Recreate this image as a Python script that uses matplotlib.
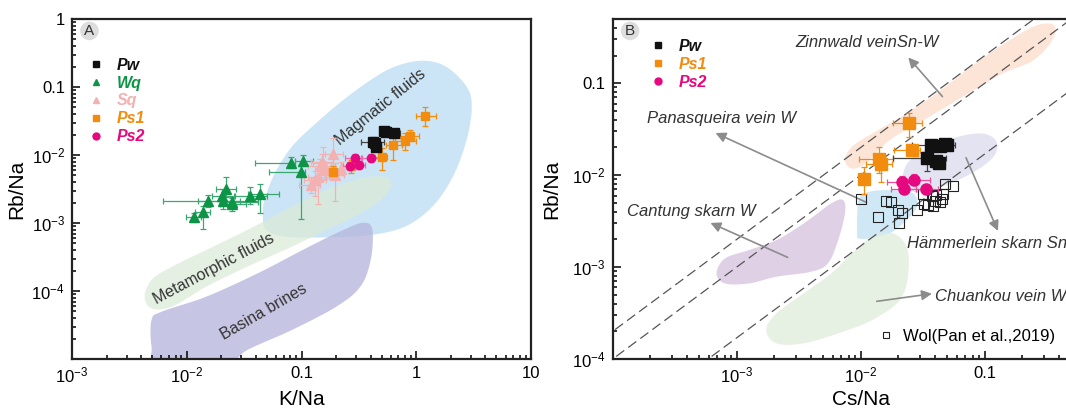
import numpy as np
import matplotlib
matplotlib.use("Agg")
import matplotlib.pyplot as plt
from matplotlib.lines import Line2D

plt.rcParams["font.family"] = ["Liberation Sans", "DejaVu Sans"]
plt.rcParams["mathtext.default"] = "regular"

# ---------------- data: panel A (K/Na vs Rb/Na) ----------------
pw_k = [0.52, 0.55, 0.64, 0.42, 0.435, 0.45]
pw_rb = [0.0225, 0.022, 0.021, 0.0155, 0.0149, 0.0132]
pw_k_lo = [0.48, 0.50, 0.57, 0.33, 0.40, 0.42]
pw_k_hi = [0.56, 0.60, 0.72, 0.52, 0.47, 0.49]
pw_rb_lo = [0.021, 0.0205, 0.0195, 0.0135, 0.0130, 0.0120]
pw_rb_hi = [0.024, 0.0235, 0.0225, 0.0185, 0.0165, 0.0145]

wq_k = [0.0115, 0.0138, 0.0153, 0.0201, 0.0219, 0.0206, 0.0248, 0.0249, 0.0355, 0.0436, 0.0807, 0.104, 0.0993]
wq_rb = [0.00121, 0.00147, 0.0021, 0.0025, 0.00316, 0.0021, 0.00206, 0.0019, 0.0025, 0.00267, 0.0075, 0.0082, 0.0056]
wq_k_lo = [0.0099, 0.0118, 0.0062, 0.0165, 0.0180, 0.0125, 0.0200, 0.0195, 0.0265, 0.0340, 0.039, 0.088, 0.052]
wq_k_hi = [0.0132, 0.0160, 0.0290, 0.0260, 0.0270, 0.0420, 0.0420, 0.0330, 0.0500, 0.0640, 0.088, 0.125, 0.107]
wq_rb_lo = [0.00105, 0.00082, 0.0017, 0.0020, 0.0024, 0.0016, 0.0017, 0.0015, 0.0019, 0.0014, 0.0065, 0.0072, 0.00113]
wq_rb_hi = [0.00138, 0.0018, 0.0026, 0.0032, 0.0048, 0.0026, 0.0024, 0.0023, 0.0034, 0.0038, 0.0095, 0.0100, 0.0068]

sq_k = [0.12, 0.13, 0.14, 0.145, 0.155, 0.16, 0.19, 0.195, 0.22, 0.15]
sq_rb = [0.0036, 0.0043, 0.0048, 0.0068, 0.0075, 0.0060, 0.0103, 0.0051, 0.0063, 0.0080]
sq_k_lo = [0.095, 0.105, 0.115, 0.115, 0.125, 0.13, 0.16, 0.165, 0.18, 0.12]
sq_k_hi = [0.145, 0.165, 0.175, 0.18, 0.19, 0.2, 0.23, 0.235, 0.27, 0.19]
sq_rb_lo = [0.0028, 0.0025, 0.0019, 0.0052, 0.0058, 0.0045, 0.0068, 0.0021, 0.0050, 0.0062]
sq_rb_hi = [0.0046, 0.0058, 0.0062, 0.0088, 0.0130, 0.0078, 0.0180, 0.0075, 0.0078, 0.0105]

ps1_k = [1.2, 0.88, 0.79, 0.63, 0.50, 0.19, 0.27]
ps1_rb = [0.0375, 0.0192, 0.0158, 0.0140, 0.0092, 0.0057, 0.0068]
ps1_k_lo = [1.0, 0.72, 0.65, 0.54, 0.44, 0.17, 0.23]
ps1_k_hi = [1.5, 1.05, 1.0, 0.75, 0.56, 0.21, 0.31]
ps1_rb_lo = [0.027, 0.016, 0.012, 0.0085, 0.006, 0.0048, 0.0055]
ps1_rb_hi = [0.050, 0.023, 0.021, 0.021, 0.0125, 0.0068, 0.0085]

ps2_k = [0.265, 0.292, 0.315, 0.40]
ps2_rb = [0.0070, 0.0089, 0.0072, 0.0090]
ps2_k_lo = [0.22, 0.24, 0.27, 0.33]
ps2_k_hi = [0.30, 0.34, 0.36, 0.46]
ps2_rb_lo = [0.0061, 0.0077, 0.0063, 0.0080]
ps2_rb_hi = [0.0080, 0.0102, 0.0082, 0.0102]

# field outlines, log10(K/Na), log10(Rb/Na)
magmatic_lx = [-1.337, -1.322, -1.233, -1.084, -0.875, -0.636, -0.397, -0.188, 0.051, 0.260, 0.439, 0.484, 0.439, 0.319, 0.140, -0.099, -0.397, -0.785, -1.143, -1.307]
magmatic_ly = [-2.907, -2.662, -2.270, -1.877, -1.534, -1.191, -0.897, -0.701, -0.613, -0.701, -0.995, -1.289, -1.779, -2.319, -2.760, -3.054, -3.176, -3.211, -3.201, -3.103]
metam_lx = [-2.367, -2.307, -2.128, -1.830, -1.472, -1.084, -0.785, -0.487, -0.278, -0.218, -0.278, -0.487, -0.785, -1.084, -1.472, -1.830, -2.128, -2.307]
metam_ly = [-4.083, -3.838, -3.642, -3.397, -3.103, -2.760, -2.515, -2.343, -2.319, -2.417, -2.613, -2.858, -3.103, -3.348, -3.642, -3.936, -4.230, -4.255]
brine_lx = [-2.307, -2.218, -1.830, -1.382, -0.934, -0.636, -0.457, -0.382, -0.397, -0.487, -0.696, -1.084, -1.472, -1.681, -2.248, -2.307]
brine_ly = [-4.426, -4.304, -4.083, -3.740, -3.348, -3.103, -2.995, -3.103, -3.544, -3.936, -4.230, -4.574, -4.868, -5.110, -5.110, -4.819]

# ---------------- data: panel B (Cs/Na vs Rb/Na) ----------------
pwb_cs = [0.037, 0.044, 0.048, 0.050, 0.034, 0.0405, 0.0426]
pwb_rb = [0.0213, 0.0209, 0.0218, 0.0215, 0.0154, 0.0144, 0.0134]
pwb_cs_lo = [0.026, 0.040, 0.043, 0.046, 0.0183, 0.036, 0.038]
pwb_cs_hi = [0.048, 0.052, 0.056, 0.058, 0.049, 0.046, 0.048]
pwb_rb_lo = [0.0195, 0.0195, 0.0205, 0.0202, 0.011, 0.0135, 0.0125]
pwb_rb_hi = [0.0235, 0.0225, 0.0235, 0.023, 0.0177, 0.0155, 0.0145]

ps1b_cs = [0.0246, 0.0258, 0.0141, 0.0145, 0.0107]
ps1b_rb = [0.0366, 0.0188, 0.0150, 0.0132, 0.0091]
ps1b_cs_lo = [0.0183, 0.0185, 0.0096, 0.0110, 0.0098]
ps1b_cs_hi = [0.031, 0.030, 0.0183, 0.0180, 0.0116]
ps1b_rb_lo = [0.0262, 0.0162, 0.0105, 0.0084, 0.0063]
ps1b_rb_hi = [0.048, 0.0218, 0.020, 0.0165, 0.0122]

ps2b_cs = [0.0214, 0.0271, 0.0223, 0.0336]
ps2b_rb = [0.0084, 0.0089, 0.0070, 0.0071]
ps2b_cs_lo = [0.0162, 0.0215, 0.0175, 0.028]
ps2b_cs_hi = [0.028, 0.036, 0.028, 0.042]
ps2b_rb_lo = [0.0072, 0.0078, 0.0062, 0.0063]
ps2b_rb_hi = [0.0097, 0.0102, 0.0079, 0.0079]

wol_cs = [0.0100, 0.0160, 0.0175, 0.0201, 0.0214, 0.0139, 0.0205, 0.0283, 0.0324, 0.0320,
          0.0374, 0.0405, 0.0450, 0.0479, 0.0558, 0.0351, 0.0385, 0.0436, 0.0398, 0.0464]
wol_rb = [0.0055, 0.0052, 0.0051, 0.0042, 0.0039, 0.0035, 0.0030, 0.0042, 0.0049, 0.0063,
          0.0060, 0.0061, 0.0055, 0.0080, 0.0077, 0.0047, 0.0046, 0.0051, 0.0053, 0.0063]

# Rb/Cs ratios of the dashed reference lines
ref_ratios = [2.0, 1.0, 0.17]

zinn_lx = [-2.127, -2.072, -1.906, -1.630, -1.354, -1.077, -0.801, -0.580, -0.442, -0.456, -0.608, -0.856, -1.133, -1.492, -1.768, -1.961, -2.072]
zinn_ly = [-1.837, -1.692, -1.547, -1.330, -1.076, -0.786, -0.533, -0.370, -0.370, -0.533, -0.750, -0.895, -1.112, -1.402, -1.620, -1.873, -1.928]
hamm_lx = [-1.657, -1.602, -1.436, -1.215, -1.022, -0.912, -0.912, -1.022, -1.215, -1.436, -1.575, -1.644]
hamm_ly = [-1.982, -1.837, -1.692, -1.583, -1.547, -1.620, -1.764, -1.909, -2.054, -2.163, -2.181, -2.109]
pana_lx = [-2.030, -2.017, -1.934, -1.740, -1.575, -1.547, -1.630, -1.768, -1.934, -2.017]
pana_ly = [-2.634, -2.272, -2.181, -2.163, -2.199, -2.344, -2.489, -2.634, -2.688, -2.688]
cant_lx = [-3.163, -3.094, -2.901, -2.680, -2.459, -2.238, -2.141, -2.127, -2.182, -2.265, -2.403, -2.680, -2.901, -3.094]
cant_ly = [-3.069, -2.906, -2.815, -2.707, -2.525, -2.308, -2.272, -2.417, -2.707, -2.960, -3.051, -3.105, -3.178, -3.178]
chuan_lx = [-2.762, -2.680, -2.459, -2.238, -2.072, -1.906, -1.740, -1.630, -1.616, -1.685, -1.906, -2.182, -2.459, -2.680]
chuan_ly = [-3.685, -3.504, -3.286, -3.069, -2.851, -2.670, -2.634, -2.779, -3.069, -3.359, -3.576, -3.721, -3.830, -3.830]

ticks_a_x = [1e-3, 1e-2, 0.1, 1, 10]
labels_a_x = ["$10^{-3}$", "$10^{-2}$", "0.1", "1", "10"]
ticks_a_y = [1e-4, 1e-3, 1e-2, 0.1, 1]
labels_a_y = ["$10^{-4}$", "$10^{-3}$", "$10^{-2}$", "0.1", "1"]
ticks_b_x = [1e-3, 1e-2, 0.1]
labels_b_x = ["$10^{-3}$", "$10^{-2}$", "0.1"]
ticks_b_y = [1e-4, 1e-3, 1e-2, 0.1]
labels_b_y = ["$10^{-4}$", "$10^{-3}$", "$10^{-2}$", "0.1"]

C_PW = "#111111"
C_WQ = "#0e9447"
C_SQ = "#f3b1b1"
C_PS1 = "#f28c0f"
C_PS2 = "#e5087f"


def blob(lx, ly, n=24):
    # closed Catmull-Rom curve through the outline points (log space)
    p = np.column_stack([lx, ly])
    m = len(p)
    out = []
    for i in range(m):
        p0, p1, p2, p3 = p[i - 1], p[i], p[(i + 1) % m], p[(i + 2) % m]
        t = np.linspace(0, 1, n, endpoint=False)[:, None]
        pt = 0.5 * ((2 * p1) + (-p0 + p2) * t + (2 * p0 - 5 * p1 + 4 * p2 - p3) * t ** 2
                    + (-p0 + 3 * p1 - 3 * p2 + p3) * t ** 3)
        out.append(pt)
    out = np.vstack(out)
    return 10 ** out[:, 0], 10 ** out[:, 1]


def series(ax, x, y, xlo, xhi, ylo, yhi, color, marker, ms, ecolor=None, z=5):
    x, y = np.array(x), np.array(y)
    xerr = [x - np.array(xlo), np.array(xhi) - x]
    yerr = [y - np.array(ylo), np.array(yhi) - y]
    ax.errorbar(x, y, xerr=xerr, yerr=yerr, fmt="none", ecolor=ecolor or color,
                elinewidth=0.9, capsize=2.5, capthick=0.9, zorder=z)
    ax.plot(x, y, ls="none", marker=marker, ms=ms, color=color, mec=color, zorder=z + 1)


def style(ax, xt, xl, yt, yl):
    ax.set_xscale("log")
    ax.set_yscale("log")
    ax.set_xticks(xt)
    ax.set_xticklabels(xl)
    ax.set_yticks(yt)
    ax.set_yticklabels(yl)
    ax.tick_params(which="both", direction="in", width=1.1, labelsize=12)
    ax.tick_params(which="major", length=6, pad=5)
    ax.tick_params(which="minor", length=3)
    for s in ax.spines.values():
        s.set_linewidth(1.6)
        s.set_color("#222222")


fig = plt.figure(figsize=(10.66, 4.09), dpi=100)
W, H = 1066.0, 409.0
axA = fig.add_axes([72 / W, 50 / H, 459 / W, 340 / H])
axB = fig.add_axes([612.7 / W, 50 / H, 496 / W, 340 / H])

# ---------------- panel A ----------------
for lx, ly, col, a in [(magmatic_lx, magmatic_ly, "#c3e1f5", 0.85),
                       (metam_lx, metam_ly, "#dcebd8", 0.75),
                       (brine_lx, brine_ly, "#b4b4dc", 0.75)]:
    bx, by = blob(lx, ly)
    axA.fill(bx, by, color=col, alpha=a, lw=0, zorder=1)

axA.text(0.49, 0.051, "Magmatic fluids", rotation=39, fontsize=11.5, color="#333333",
         ha="center", va="center", zorder=3)
axA.text(0.0172, 2.15e-4, "Metamorphic fluids", rotation=28, fontsize=11.5, color="#333333",
         ha="center", va="center", zorder=3)
axA.text(0.0467, 5.0e-5, "Basina brines", rotation=30, fontsize=11.5, color="#333333",
         ha="center", va="center", zorder=3)

series(axA, wq_k, wq_rb, wq_k_lo, wq_k_hi, wq_rb_lo, wq_rb_hi, C_WQ, "^", 7, ecolor="#3aa870")
series(axA, sq_k, sq_rb, sq_k_lo, sq_k_hi, sq_rb_lo, sq_rb_hi, C_SQ, "^", 7)
series(axA, ps1_k, ps1_rb, ps1_k_lo, ps1_k_hi, ps1_rb_lo, ps1_rb_hi, C_PS1, "s", 6)
series(axA, ps2_k, ps2_rb, ps2_k_lo, ps2_k_hi, ps2_rb_lo, ps2_rb_hi, C_PS2, "o", 6, ecolor="#ee6aae")
series(axA, pw_k, pw_rb, pw_k_lo, pw_k_hi, pw_rb_lo, pw_rb_hi, C_PW, "s", 6.5, ecolor="#444444")

axA.set_xlim(1e-3, 10)
axA.set_ylim(1e-5, 1)
style(axA, ticks_a_x, labels_a_x, ticks_a_y, labels_a_y)
axA.set_xlabel("K/Na", fontsize=15, labelpad=3)
axA.set_ylabel("Rb/Na", fontsize=15, labelpad=4)

hA = [Line2D([], [], ls="none", marker=m, ms=5, color=c) for m, c in
      [("s", C_PW), ("^", C_WQ), ("^", C_SQ), ("s", C_PS1), ("o", C_PS2)]]
legA = axA.legend(hA, ["Pw", "Wq", "Sq", "Ps1", "Ps2"], loc="upper left",
                  bbox_to_anchor=(0.025, 0.905), frameon=False, handlelength=0.8,
                  handletextpad=0.9, labelspacing=0.18, borderaxespad=0,
                  prop={"weight": "bold", "style": "italic", "size": 11.5})
for t, c in zip(legA.get_texts(), [C_PW, C_WQ, C_SQ, C_PS1, C_PS2]):
    t.set_color(c)

axA.text(0.038, 0.965, "A", transform=axA.transAxes, ha="center", va="center",
         fontsize=11, color="#333333",
         bbox=dict(boxstyle="circle,pad=0.15", fc="#dddddd", ec="none"))

# ---------------- panel B ----------------
for lx, ly, col, a in [(zinn_lx, zinn_ly, "#fbdcca", 0.75),
                       (hamm_lx, hamm_ly, "#dcdcef", 0.8),
                       (pana_lx, pana_ly, "#c8e4f5", 0.85),
                       (cant_lx, cant_ly, "#dac8e2", 0.85),
                       (chuan_lx, chuan_ly, "#e1eedd", 0.8)]:
    bx, by = blob(lx, ly)
    axB.fill(bx, by, color=col, alpha=a, lw=0, zorder=1)

xs = np.array([1e-5, 10])
for r in ref_ratios:
    axB.plot(xs, r * xs, ls=(0, (8, 4)), color="#555555", lw=0.9, zorder=2)

arrow_kw = dict(arrowstyle="-|>,head_length=0.6,head_width=0.3", color="#8c8c8c", lw=1.2)
afont = dict(style="italic", fontsize=12, color="#333333", zorder=4)
axB.annotate("", xy=(0.0234, 0.201), xytext=(0.0472, 0.068), arrowprops=arrow_kw, zorder=3)
axB.text(0.0113, 0.281, "Zinnwald veinSn-W", ha="center", va="center", **afont)
axB.annotate("", xy=(6.44e-4, 0.0296), xytext=(0.01164, 0.00492), arrowprops=arrow_kw, zorder=3)
axB.text(7.55e-4, 0.0413, "Panasqueira vein W", ha="center", va="center", **afont)
axB.annotate("", xy=(5.86e-4, 0.00311), xytext=(0.0027, 0.00124), arrowprops=arrow_kw, zorder=3)
axB.text(4.27e-4, 0.0040, "Cantung skarn W", ha="center", va="center", **afont)
axB.annotate("", xy=(0.1306, 0.00232), xytext=(0.0692, 0.0165), arrowprops=arrow_kw, zorder=3)
axB.text(0.0235, 0.00181, "Hämmerlein skarn Sn", ha="left", va="center", **afont)
axB.annotate("", xy=(0.0395, 5.18e-4), xytext=(0.0128, 4.2e-4), arrowprops=arrow_kw, zorder=3)
axB.text(0.0398, 4.76e-4, "Chuankou vein W", ha="left", va="center", **afont)

axB.plot(wol_cs, wol_rb, ls="none", marker="s", ms=6.5, mfc="none", mec="#222222",
         mew=0.8, zorder=4)
series(axB, ps1b_cs, ps1b_rb, ps1b_cs_lo, ps1b_cs_hi, ps1b_rb_lo, ps1b_rb_hi, C_PS1, "s", 8)
series(axB, ps2b_cs, ps2b_rb, ps2b_cs_lo, ps2b_cs_hi, ps2b_rb_lo, ps2b_rb_hi, C_PS2, "o", 8, ecolor="#ee4c9e")
series(axB, pwb_cs, pwb_rb, pwb_cs_lo, pwb_cs_hi, pwb_rb_lo, pwb_rb_hi, C_PW, "s", 8, ecolor="#444444")

axB.set_xlim(1e-4, 1)
axB.set_ylim(1e-4, 0.5)
style(axB, ticks_b_x, labels_b_x, ticks_b_y, labels_b_y)
axB.set_xlabel("Cs/Na", fontsize=15)
axB.xaxis.set_label_coords(0.5, -0.09)
axB.set_ylabel("Rb/Na", fontsize=15, labelpad=8)

hB = [Line2D([], [], ls="none", marker=m, ms=5, color=c) for m, c in
      [("s", C_PW), ("s", C_PS1), ("o", C_PS2)]]
legB = axB.legend(hB, ["Pw", "Ps1", "Ps2"], loc="upper left",
                  bbox_to_anchor=(0.065, 0.96), frameon=False, handlelength=0.8,
                  handletextpad=0.9, labelspacing=0.18, borderaxespad=0,
                  prop={"weight": "bold", "style": "italic", "size": 11.5})
for t, c in zip(legB.get_texts(), [C_PW, C_PS1, C_PS2]):
    t.set_color(c)
axB.add_artist(legB)

hW = [Line2D([], [], ls="none", marker="s", ms=5, mfc="none", mec="#222222", mew=0.8)]
axB.legend(hW, ["Wol(Pan et al.,2019)"], loc="lower right", bbox_to_anchor=(0.905, 0.025),
           frameon=False, handlelength=0.8, handletextpad=0.6, borderaxespad=0,
           prop={"size": 12})

axB.text(0.035, 0.965, "B", transform=axB.transAxes, ha="center", va="center",
         fontsize=11, color="#333333",
         bbox=dict(boxstyle="circle,pad=0.15", fc="#dddddd", ec="none"))

fig.savefig("out.png", dpi=100)
